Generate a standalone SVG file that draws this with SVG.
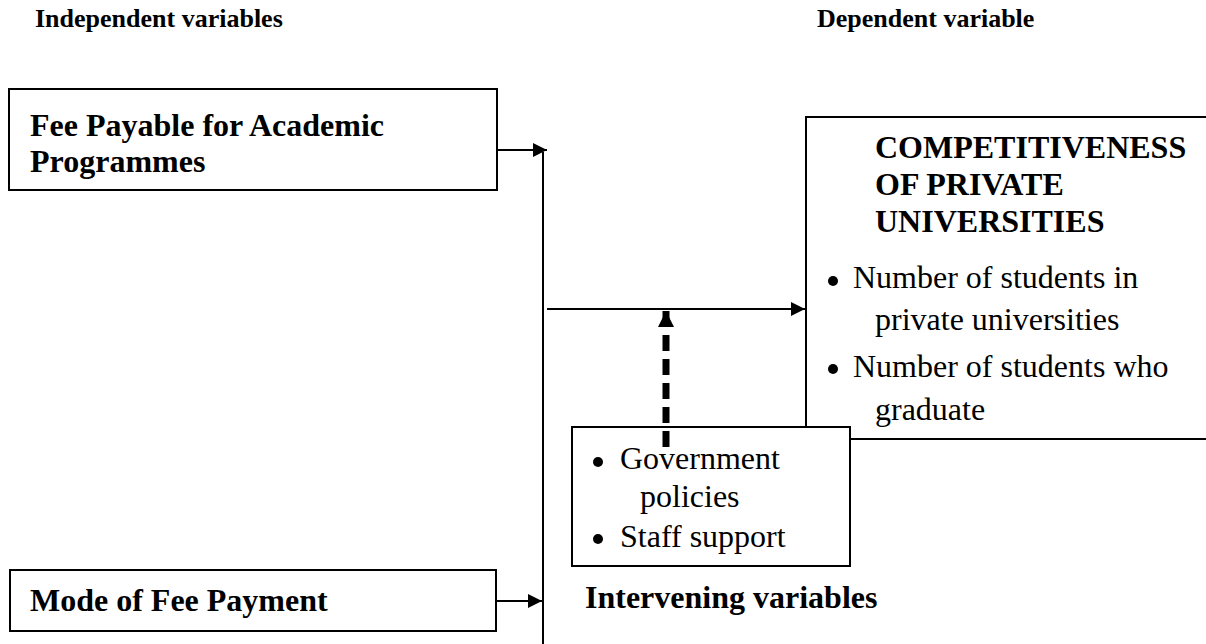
<svg xmlns="http://www.w3.org/2000/svg" width="1206" height="644" viewBox="0 0 1206 644">
<style>
.box{fill:#fff;stroke:#000;stroke-width:2}
.b{font-family:"Liberation Serif","Times New Roman",serif;font-weight:bold;fill:#000}
.r{font-family:"Liberation Serif","Times New Roman",serif;fill:#000}
.ln{stroke:#000;stroke-width:2;fill:none}
</style>
<defs>
<marker id="ah" viewBox="0 0 10 10" refX="10" refY="5" markerWidth="15" markerHeight="14" markerUnits="userSpaceOnUse" orient="auto">
<path d="M0,0 L10,5 L0,10 Z" fill="#000"/>
</marker>
<marker id="ahd" viewBox="0 0 10 10" refX="10" refY="5" markerWidth="16" markerHeight="18" markerUnits="userSpaceOnUse" orient="auto">
<path d="M0,0 L10,5 L0,10 Z" fill="#000"/>
</marker>
</defs>
<g id="headers">
<text class="b" x="35" y="27" font-size="26">Independent variables</text>
<text class="b" x="817" y="27" font-size="26">Dependent variable</text>
</g>
<g id="connectors">
<line class="ln" x1="497" y1="150" x2="547" y2="150" marker-end="url(#ah)"/>
<line class="ln" x1="543" y1="152" x2="543" y2="644"/>
<line class="ln" x1="496" y1="601" x2="542" y2="601" marker-end="url(#ah)"/>
<line class="ln" x1="547" y1="309" x2="805" y2="309" marker-end="url(#ah)"/>
</g>
<g id="fee-payable">
<rect class="box" x="9" y="89" width="488" height="101"/>
<text class="b" x="30" y="136" font-size="32">Fee Payable for Academic</text>
<text class="b" x="30" y="172" font-size="32">Programmes</text>
</g>
<g id="mode-of-payment">
<rect class="box" x="10" y="570" width="486" height="61"/>
<text class="b" x="30" y="611" font-size="32">Mode of Fee Payment</text>
</g>
<g id="competitiveness">
<rect class="box" x="806" y="117" width="420" height="322"/>
<text class="b" x="875" y="158" font-size="32">COMPETITIVENESS</text>
<text class="b" x="875" y="195" font-size="32">OF PRIVATE</text>
<text class="b" x="875" y="232" font-size="32">UNIVERSITIES</text>
<circle cx="833" cy="281" r="5"/>
<text class="r" x="853" y="288" font-size="32">Number of students in</text>
<text class="r" x="875" y="330" font-size="32">private universities</text>
<circle cx="833" cy="369" r="5"/>
<text class="r" x="853" y="377" font-size="32">Number of students who</text>
<text class="r" x="875" y="420" font-size="32">graduate</text>
</g>
<g id="intervening">
<rect class="box" x="572" y="427" width="278" height="139"/>
<circle cx="598" cy="462" r="5"/>
<text class="r" x="620" y="469" font-size="32">Government</text>
<text class="r" x="640" y="507" font-size="32">policies</text>
<circle cx="598" cy="539" r="5"/>
<text class="r" x="620" y="547" font-size="32">Staff support</text>
<text class="b" x="585" y="608" font-size="32">Intervening variables</text>
</g>
<g id="moderator-connector">
<line x1="666" y1="447" x2="666" y2="311" stroke="#000" stroke-width="7" stroke-dasharray="16 8" marker-end="url(#ahd)"/>
</g>
</svg>
